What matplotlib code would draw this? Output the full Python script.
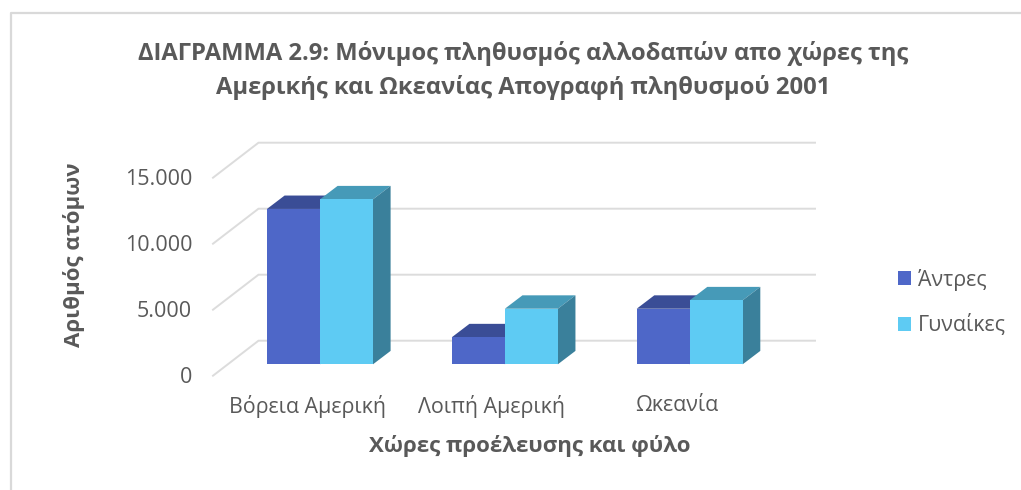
import matplotlib
matplotlib.use("Agg")
import matplotlib.pyplot as plt
from matplotlib.patches import Polygon, Patch
from matplotlib.lines import Line2D

categories = ["Βόρεια Αμερική", "Λοιπή Αμερική", "Ωκεανία"]
series_names = ["Άντρες", "Γυναίκες"]
men = [11770, 2050, 4210]
women = [12500, 4210, 4850]
y_ticks = [0, 5000, 10000, 15000]
y_tick_labels = ["0", "5.000", "10.000", "15.000"]
title = "ΔΙΑΓΡΑΜΜΑ 2.9: Μόνιμος πληθυσμός αλλοδαπών απο χώρες της\nΑμερικής και Ωκεανίας Απογραφή πληθυσμού 2001"
xlabel = "Χώρες προέλευσης και φύλο"
ylabel = "Αριθμός ατόμων"

W, H = 1021, 490
TEXT = "#595959"
GRID = "#dcdcdc"
front_colors = ["#4e67c8", "#5ecbf3"]
top_colors = ["#3a4d96", "#469ab8"]
side_colors = ["#34458a", "#3a809b"]

plt.rcParams["font.family"] = ["Open Sans", "Noto Sans", "DejaVu Sans"]
fig = plt.figure(figsize=(W / 100, H / 100), dpi=100, facecolor="white")

# axes spans the plot box in pixels
L, R, T, B = 213.0, 815.0, 142.0, 375.7
ax = fig.add_axes([L / W, 1 - B / H, (R - L) / W, (B - T) / H])
px_per_cat = 184.85
px_per_val = 66.0 / 5000
cat0_px = 320.0
base_px = 364.3
ax.patch.set_alpha(0)
for s in ax.spines.values():
    s.set_visible(False)

# pseudo-3D depth in data units
bar_w = 53.0 / px_per_cat
dx_bar, dy_bar = 17.6 / px_per_cat, 13.4 / px_per_val
front_off = (base_px - B) / px_per_val
back_off = (base_px - 340.7) / px_per_val
x_front = (L - cat0_px) / px_per_cat
x_back = (258.5 - cat0_px) / px_per_cat
x_end = (R - cat0_px) / px_per_cat

for v in y_ticks:
    ax.add_line(Line2D([x_front, x_back, x_end],
                       [v + front_off, v + back_off, v + back_off],
                       color=GRID, lw=1.4, zorder=1, clip_on=False))

def draw_bar(x0, v, i, z):
    x1 = x0 + bar_w
    ax.bar(x0, v, width=bar_w, align="edge", color=front_colors[i],
           edgecolor="none", zorder=z + 0.2)
    ax.add_patch(Polygon([(x0, v), (x1, v), (x1 + dx_bar, v + dy_bar), (x0 + dx_bar, v + dy_bar)],
                         closed=True, fc=top_colors[i], ec="none", zorder=z))
    ax.add_patch(Polygon([(x1, 0), (x1 + dx_bar, dy_bar), (x1 + dx_bar, v + dy_bar), (x1, v)],
                         closed=True, fc=side_colors[i], ec="none", zorder=z))

for c in range(len(categories)):
    draw_bar(c - bar_w, men[c], 0, 2)
    draw_bar(c, women[c], 1, 3)

ax.set_yticks([v + front_off + 90 for v in y_ticks])
ax.set_yticklabels(y_tick_labels, fontsize=15.5, color=TEXT)
ax.tick_params(axis="y", length=0, pad=15)
ax.set_xticks([c - 0.07 for c in range(len(categories))])
ax.set_xticklabels(categories, fontsize=15.4, color=TEXT)
ax.tick_params(axis="x", length=0, pad=14)
# limits last: set_*ticks widens the view to include the ticks
ax.set_xlim((L - cat0_px) / px_per_cat, (R - cat0_px) / px_per_cat)
ax.set_ylim((base_px - B) / px_per_val, (base_px - T) / px_per_val)

fig.text(523 / W, 1 - 70.5 / H, title, ha="center", va="center", fontsize=17.1,
         fontweight="bold", color=TEXT, linespacing=1.43)
fig.text(530 / W, 1 - 446 / H, xlabel, ha="center", va="center", fontsize=16,
         fontweight="bold", color=TEXT)
fig.text(74 / W, 1 - 255 / H, ylabel, ha="center", va="center", rotation=90,
         fontsize=16, fontweight="bold", color=TEXT)

handles = [Patch(fc=front_colors[i], ec="none", label=series_names[i]) for i in range(2)]
fig.legend(handles=handles, loc="center left", bbox_to_anchor=(898 / W, 1 - 302.5 / H),
           frameon=False, fontsize=15.4, labelcolor=TEXT, handlelength=0.61, handleheight=0.61,
           handletextpad=0.33, labelspacing=1.1, borderaxespad=0, borderpad=0)

# chart-area frame visible at top and left only
fig.add_artist(Line2D([10.5 / W, 10.5 / W, 1.0], [0, 1 - 13.5 / H, 1 - 13.5 / H],
                      color="#d9d9d9", lw=1.6, transform=fig.transFigure))

fig.savefig("out.png", dpi=100, facecolor="white")
